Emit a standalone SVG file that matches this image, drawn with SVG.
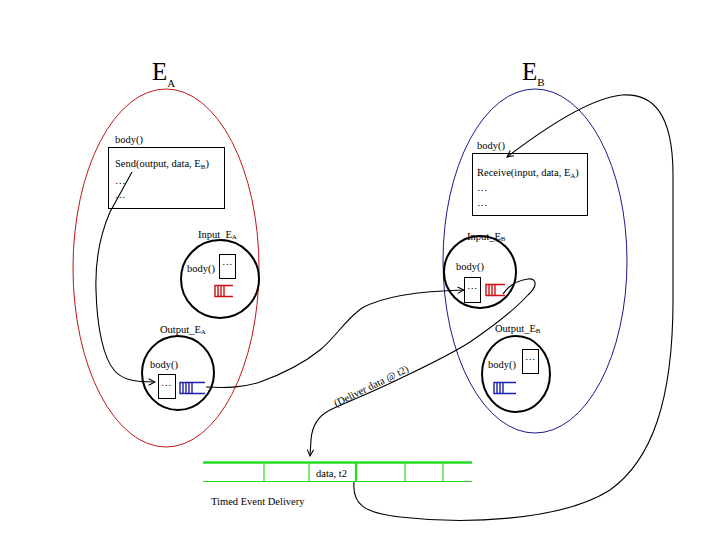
<svg xmlns="http://www.w3.org/2000/svg" width="720" height="540" viewBox="0 0 720 540">
<style>
text{font-family:"Liberation Serif","Times New Roman",serif;fill:#000;font-size:10.5px}
.big{font-size:25px}
.sub{font-size:7px}
.bigsub{font-size:11px}
.box{fill:none;stroke:#000;stroke-width:1}
.port{fill:none;stroke:#000;stroke-width:2}
.conn{fill:none;stroke:#000;stroke-width:1.1}
.qr{fill:none;stroke:#d01010;stroke-width:1.4}
.qb{fill:none;stroke:#1a20b0;stroke-width:1.4}
.tl{stroke:#22dd22;fill:none}
</style>
<defs>
<marker id="arr" viewBox="0 0 10 10" refX="9" refY="5" markerWidth="8" markerHeight="8" orient="auto" markerUnits="userSpaceOnUse">
<path d="M1,1 L9,5 L1,9" fill="none" stroke="#000" stroke-width="1.3"/>
</marker>
</defs>
<rect width="720" height="540" fill="#fff"/>

<g id="EA">
<ellipse cx="166" cy="268" rx="93" ry="179" fill="none" stroke="#c01818" stroke-width="1"/>
<text x="152" y="80" class="big">E<tspan class="bigsub" dy="7">A</tspan></text>
</g>
<g id="EB">
<ellipse cx="535" cy="261" rx="92" ry="172" fill="none" stroke="#1a1a8c" stroke-width="1"/>
<text x="522" y="80" class="big">E<tspan class="bigsub" dy="6">B</tspan></text>
</g>

<g id="bodyA">
<text x="115" y="143">body()</text>
<rect x="108.5" y="147.5" width="116" height="61" class="box"/>
<text x="115" y="167">Send(output, data, E<tspan class="sub" dy="2">B</tspan><tspan dy="-2">)</tspan></text>
<text x="115" y="184">…</text>
<text x="115" y="198">…</text>
</g>

<g id="bodyB">
<text x="477" y="149">body()</text>
<rect x="472.5" y="153.5" width="115" height="62" class="box"/>
<text x="477" y="176">Receive(input, data, E<tspan class="sub" dy="2">A</tspan><tspan dy="-2">)</tspan></text>
<text x="477" y="191">…</text>
<text x="477" y="206">…</text>
</g>

<g id="InputEA">
<circle cx="220" cy="279" r="39" class="port"/>
<text x="198" y="238">Input_E<tspan class="sub" dy="1">A</tspan></text>
<text x="187" y="272">body()</text>
<rect x="219.5" y="254.5" width="16" height="24" class="box"/>
<text x="222" y="265" font-size="8">…</text>
<path class="qr" d="M233,285.5 H215 V296.5 H233 M218,285.5 V296.5 M221,285.5 V296.5 M224,285.5 V296.5"/>
</g>

<g id="OutputEA">
<ellipse cx="178" cy="373" rx="36" ry="37" class="port"/>
<text x="160" y="333">Output_E<tspan class="sub" dy="1">A</tspan></text>
<text x="150" y="368">body()</text>
<rect x="158.5" y="374.5" width="17" height="24" class="box"/>
<text x="161" y="386" font-size="8">…</text>
<path class="qb" d="M205,382.5 H180 V393.5 H205 M183,382.5 V393.5 M186,382.5 V393.5 M189,382.5 V393.5 M192,382.5 V393.5"/>
</g>

<g id="InputEB">
<circle cx="480" cy="272" r="36" class="port"/>
<text x="467" y="240">Input_E<tspan class="sub" dy="1">B</tspan></text>
<text x="456" y="270">body()</text>
<rect x="464.5" y="277.5" width="16" height="25" class="box"/>
<text x="467" y="289" font-size="8">…</text>
<path class="qr" d="M505,284.5 H486 V295.5 H505 M489,284.5 V295.5 M492,284.5 V295.5 M495,284.5 V295.5"/>
</g>

<g id="OutputEB">
<ellipse cx="516" cy="374" rx="34" ry="38" class="port"/>
<text x="495" y="332">Output_E<tspan class="sub" dy="1">B</tspan></text>
<text x="488" y="368">body()</text>
<rect x="522.5" y="349.5" width="16" height="24" class="box"/>
<text x="525" y="360" font-size="8">…</text>
<path class="qb" d="M516,382.5 H494 V393.5 H516 M497,382.5 V393.5 M500,382.5 V393.5 M503,382.5 V393.5"/>
</g>

<g id="timeline">
<line x1="203" y1="462.5" x2="472" y2="462.5" class="tl" stroke-width="2.5"/>
<line x1="203" y1="481.5" x2="472" y2="481.5" class="tl" stroke-width="1.2"/>
<path class="tl" stroke-width="1.2" d="M264,462 V482 M309,462 V482 M405,462 V482 M443,462 V482"/>
<line x1="356" y1="462" x2="356" y2="482" class="tl" stroke-width="2.2"/>
<text x="316" y="477">data, t2</text>
<text x="211" y="505">Timed Event Delivery</text>
</g>

<g id="connectors">
<path class="conn" marker-end="url(#arr)" d="M132,172 L110,212 C100,235 95,260 96,290 C97,330 104,358 114,370 C122,380 135,382 155,382"/>
<path class="conn" marker-end="url(#arr)" d="M206,387 C225,388 242,388 260,382 C285,373 305,362 320,350 C335,338 345,320 362,308 C382,297 420,291 464,290"/>
<path class="conn" marker-end="url(#arr)" d="M503,294 C508,286 515,281 528,279 C538,278 537,287 528,295 C515,309 495,325 470,342 C450,355 420,369 395,381 C370,393 345,403 330,410 C318,416 312,425 311,440 L310,456"/>
<path class="conn" marker-end="url(#arr)" d="M354,482 C352,505 365,513 400,517 C460,524 560,522 610,490 C652,460 673,400 673,300 L673,175 C673,112 652,93 622,95 C590,98 545,128 507,157"/>
<text x="0" y="0" transform="translate(336,407) rotate(-26)" font-size="11">(Deliver data @ t2)</text>
</g>
</svg>
